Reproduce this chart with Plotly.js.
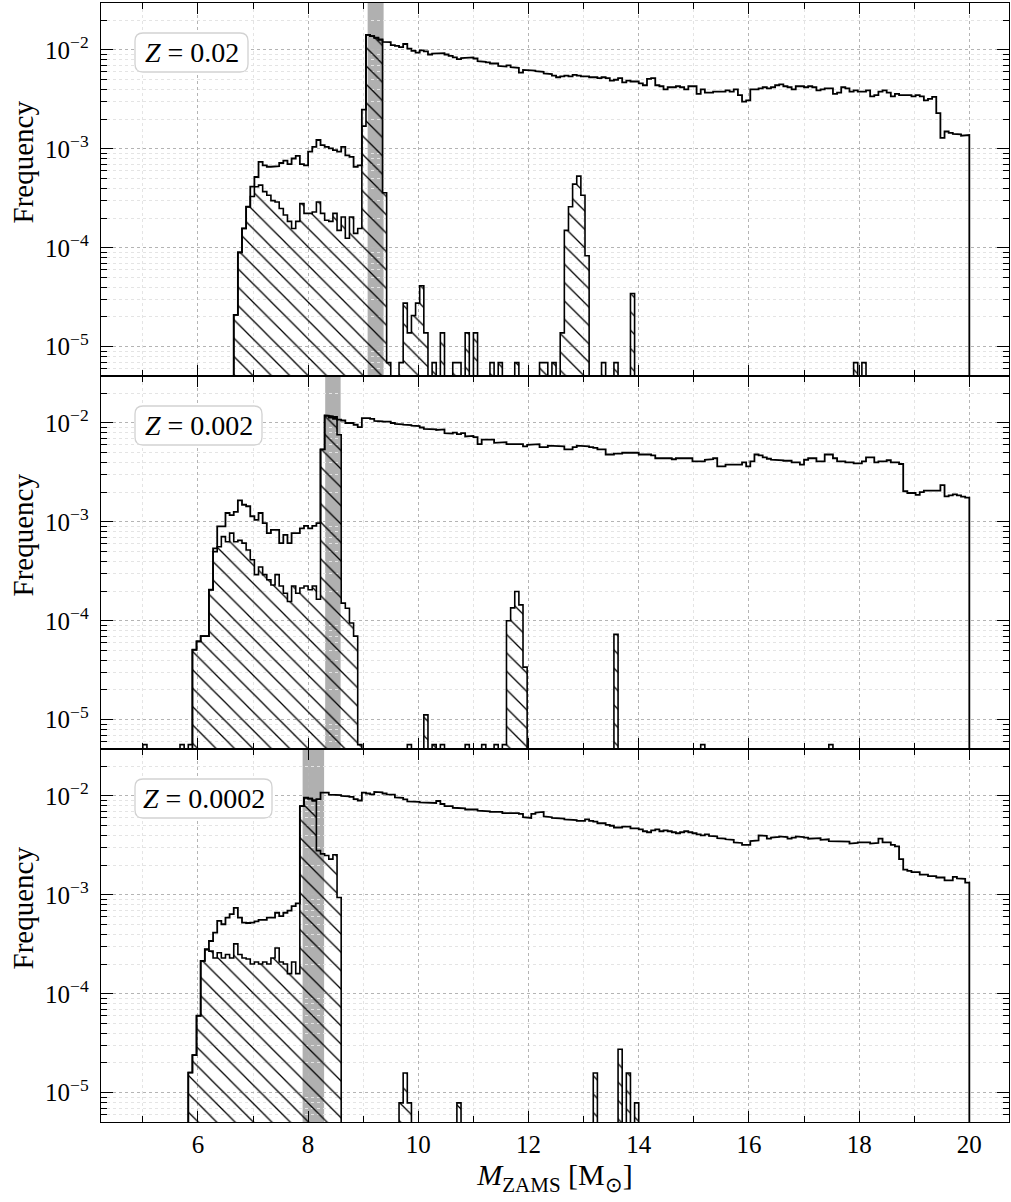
<!DOCTYPE html>
<html><head><meta charset="utf-8">
<script src="https://cdn.plot.ly/plotly-3.0.1.min.js"></script>
<style>html,body{margin:0;padding:0;background:#fff}</style>
</head><body>
<div id="chart" style="width:1011px;height:1202px"></div>
<script>
// ---------- histogram binning ----------
const BIN_START = 5.0;
const BIN_WIDTH = 0.075;

// ---------- panel labels & shaded bands ----------
const metallicity = ['0.02', '0.002', '0.0002'];
const bandLo = [9.08, 8.31, 7.90];
const bandHi = [9.37, 8.59, 8.29];

// ---------- Z = 0.02 ----------
const total1Start = 6.65;
const total1 = [
 2.1e-5,9.0e-5,1.57e-4,2.6e-4,4.15e-4,5.2e-4,7.4e-4,6.8e-4,6.6e-4,6.6e-4,6.7e-4,7.2e-4,7.6e-4,7.0e-4,8.0e-4,8.5e-4,7.0e-4,6.8e-4,
 9.4e-4,1.05e-3,1.23e-3,1.09e-3,1.05e-3,1.01e-3,9.7e-4,9.4e-4,1.05e-3,8.6e-4,8.3e-4,6.6e-4,6.8e-4,2.5e-3,1.42e-2,1.38e-2,1.33e-2,1.28e-2,
 1.21e-2,1.2e-2,1.12e-2,1.1e-2,1.07e-2,1.15e-2,1.03e-2,9.8e-3,9.4e-3,9.9e-3,9.7e-3,9.0e-3,9.2e-3,9.3e-3,9.3e-3,9.0e-3,8.7e-3,8.4e-3,
 8.1e-3,8.3e-3,8.3e-3,8.4e-3,8.2e-3,7.7e-3,7.6e-3,7.5e-3,7.3e-3,7.3e-3,6.9e-3,6.8e-3,7.0e-3,6.7e-3,6.6e-3,5.9e-3,6.3e-3,6.2e-3,
 6.2e-3,6.1e-3,6.0e-3,5.8e-3,5.7e-3,5.5e-3,5.3e-3,5.4e-3,5.5e-3,5.4e-3,5.6e-3,5.5e-3,5.4e-3,5.4e-3,5.3e-3,5.3e-3,5.2e-3,5.3e-3,
 5.2e-3,4.9e-3,5.0e-3,5.2e-3,4.7e-3,4.9e-3,4.8e-3,4.8e-3,4.6e-3,4.4e-3,5.1e-3,5.2e-3,4.4e-3,4.3e-3,4.0e-3,4.2e-3,4.2e-3,4.3e-3,
 4.2e-3,4.0e-3,4.3e-3,4.3e-3,3.6e-3,4.0e-3,3.7e-3,3.7e-3,3.8e-3,3.8e-3,3.8e-3,3.9e-3,3.8e-3,4.0e-3,3.5e-3,3.0e-3,3.1e-3,4.0e-3,
 4.0e-3,4.1e-3,4.2e-3,4.1e-3,4.2e-3,4.4e-3,4.5e-3,4.3e-3,4.2e-3,4.0e-3,4.3e-3,4.3e-3,4.2e-3,4.3e-3,4.2e-3,3.9e-3,4.0e-3,4.1e-3,
 4.1e-3,3.6e-3,3.7e-3,4.2e-3,4.1e-3,3.8e-3,3.9e-3,3.8e-3,3.8e-3,3.9e-3,3.4e-3,3.5e-3,3.8e-3,3.9e-3,3.7e-3,3.4e-3,3.6e-3,3.5e-3,
 3.5e-3,3.5e-3,3.4e-3,3.5e-3,3.4e-3,3.1e-3,3.2e-3,3.35e-3,2.3e-3,1.29e-3,1.5e-3,1.45e-3,1.42e-3,1.4e-3,1.36e-3,1.38e-3
];
const hatch1Start = 6.65;
const hatch1 = [
 2.1e-5,9.0e-5,1.57e-4,2.6e-4,3.3e-4,4.15e-4,4.3e-4,3.7e-4,3.4e-4,3.0e-4,2.9e-4,2.5e-4,2.15e-4,1.85e-4,1.57e-4,1.85e-4,2.8e-4,2.23e-4,
 2.23e-4,2.3e-4,2.9e-4,2.23e-4,1.9e-4,1.85e-4,2.23e-4,1.5e-4,2.05e-4,1.25e-4,2.05e-4,1.4e-4,1.57e-4,1.7e-3,1.42e-2,1.38e-2,1.33e-2,1.26e-2,
 3.6e-4,6.9e-6
];
const spike1Mass = [9.65,9.725,9.8,9.875,9.95,10.025,10.1,10.25,10.4,10.625,10.7,10.85,11.0,11.3,11.45,11.75,12.2,12.275,12.425,12.575,
 12.65,12.725,12.8,12.875,12.95,13.025,13.325,13.55,13.85,17.9,18.05];
const spike1Freq = [6.9e-6,2.76e-5,1.38e-5,2.07e-5,2.76e-5,4.14e-5,1.38e-5,6.9e-6,1.38e-5,6.9e-6,6.9e-6,1.38e-5,1.38e-5,6.9e-6,6.9e-6,6.9e-6,
 6.9e-6,6.9e-6,6.9e-6,1.38e-5,1.5e-4,2.6e-4,4.4e-4,5.3e-4,3.4e-4,8.3e-5,6.9e-6,6.9e-6,3.45e-5,6.9e-6,6.9e-6];

// ---------- Z = 0.002 ----------
const total2Start = 5.9;
const total2 = [
 5.1e-5,6.2e-5,7.0e-5,7.0e-5,2.06e-4,5.4e-4,9.0e-4,9.0e-4,1.23e-3,1.17e-3,1.26e-3,1.65e-3,1.49e-3,1.44e-3,1.14e-3,1.05e-3,
 1.23e-3,9.7e-4,7.7e-4,8.3e-4,8.3e-4,6.1e-4,7.4e-4,6.1e-4,7.7e-4,7.7e-4,8.6e-4,9.1e-4,8.6e-4,9.1e-4,9.7e-4,5.4e-3,
 1.19e-2,1.17e-2,1.15e-2,1.08e-2,1.06e-2,1.0e-2,1.0e-2,9.6e-3,9.1e-3,1.12e-2,1.12e-2,1.1e-2,1.05e-2,1.04e-2,1.03e-2,1.03e-2,
 1.0e-2,9.8e-3,9.7e-3,9.6e-3,9.5e-3,9.4e-3,9.3e-3,9.0e-3,8.7e-3,8.6e-3,8.6e-3,8.5e-3,8.6e-3,7.9e-3,7.8e-3,8.0e-3,
 7.7e-3,7.9e-3,7.3e-3,7.4e-3,7.2e-3,6.1e-3,6.8e-3,6.7e-3,6.8e-3,6.3e-3,6.3e-3,6.4e-3,6.1e-3,6.1e-3,6.2e-3,6.1e-3,
 5.8e-3,6.0e-3,6.0e-3,6.1e-3,5.7e-3,5.7e-3,5.9e-3,5.9e-3,5.8e-3,5.8e-3,5.4e-3,5.4e-3,5.7e-3,5.9e-3,5.9e-3,5.8e-3,
 5.7e-3,5.6e-3,5.4e-3,5.4e-3,4.8e-3,4.8e-3,4.9e-3,4.9e-3,5.0e-3,5.0e-3,5.0e-3,5.0e-3,4.8e-3,4.8e-3,4.8e-3,4.7e-3,
 4.4e-3,4.4e-3,4.4e-3,4.4e-3,4.3e-3,4.4e-3,4.4e-3,4.4e-3,4.4e-3,4.1e-3,4.1e-3,4.1e-3,4.25e-3,4.3e-3,4.4e-3,3.65e-3,
 3.65e-3,3.8e-3,3.8e-3,3.8e-3,3.8e-3,4.0e-3,3.65e-3,4.1e-3,4.8e-3,4.7e-3,4.5e-3,4.35e-3,4.25e-3,4.25e-3,4.2e-3,4.15e-3,
 4.15e-3,4.0e-3,4.0e-3,3.8e-3,4.25e-3,4.4e-3,4.4e-3,4.1e-3,4.1e-3,4.8e-3,4.8e-3,4.4e-3,4.1e-3,4.1e-3,4.0e-3,4.0e-3,
 3.9e-3,3.9e-3,4.1e-3,4.5e-3,4.5e-3,4.0e-3,4.1e-3,4.1e-3,4.2e-3,4.0e-3,4.0e-3,3.85e-3,2.04e-3,1.96e-3,1.96e-3,1.88e-3,
 2.0e-3,2.07e-3,2.07e-3,2.07e-3,2.07e-3,2.35e-3,1.81e-3,1.85e-3,1.9e-3,1.85e-3,1.8e-3,1.76e-3
];
const hatch2Start = 5.9;
const hatch2 = [
 5.1e-5,6.2e-5,7.0e-5,7.0e-5,2.06e-4,5.0e-4,5.6e-4,7.1e-4,6.3e-4,7.7e-4,6.3e-4,6.5e-4,6.1e-4,5.2e-4,4.15e-4,2.93e-4,
 3.5e-4,2.93e-4,2.6e-4,2.3e-4,2.93e-4,2.25e-4,1.9e-4,1.57e-4,2.25e-4,1.9e-4,2.15e-4,2.25e-4,2.06e-4,2.25e-4,1.65e-4,5.4e-3,
 1.19e-2,1.13e-2,1.1e-2,7.6e-3,1.51e-4,1.34e-4,9.5e-5,7.0e-5,5.6e-6
];
const spike2Mass = [5.0,5.675,5.825,9.8,10.1,10.25,10.4,10.85,11.15,11.375,11.525,11.6,11.675,11.75,11.825,11.9,13.55,15.125,17.45];
const spike2Freq = [5.6e-6,5.6e-6,5.6e-6,5.6e-6,1.12e-5,5.6e-6,5.6e-6,5.6e-6,5.6e-6,5.6e-6,5.6e-6,1.0e-4,1.35e-4,1.98e-4,1.45e-4,3.4e-5,7.3e-5,5.6e-6,5.6e-6];

// ---------- Z = 0.0002 ----------
const total3Start = 5.825;
const total3 = [
 1.6e-5,2.4e-5,6.0e-5,2.15e-4,2.82e-4,3.42e-4,4.16e-4,5.45e-4,5.05e-4,5.9e-4,6.4e-4,7.4e-4,5.9e-4,5.25e-4,5.2e-4,5.25e-4,
 5.4e-4,5.6e-4,5.6e-4,5.9e-4,5.9e-4,6.6e-4,6.1e-4,6.6e-4,6.95e-4,7.7e-4,8.2e-4,
 7.9e-3,9.6e-3,9.4e-3,9.1e-3,9.3e-3,1.08e-2,1.08e-2,1.03e-2,1.02e-2,1.02e-2,1.0e-2,9.9e-3,9.8e-3,9.3e-3,9.0e-3,1.08e-2,
 1.06e-2,1.04e-2,1.1e-2,1.09e-2,1.06e-2,1.04e-2,1.03e-2,9.7e-3,9.6e-3,9.25e-3,8.8e-3,8.8e-3,8.7e-3,8.6e-3,8.5e-3,8.5e-3,
 8.5e-3,8.9e-3,8.3e-3,7.9e-3,7.9e-3,7.6e-3,7.6e-3,7.5e-3,7.3e-3,7.3e-3,7.3e-3,7.1e-3,7.0e-3,7.0e-3,6.9e-3,6.8e-3,6.9e-3,
 6.7e-3,6.8e-3,6.7e-3,6.7e-3,6.6e-3,6.1e-3,6.0e-3,6.6e-3,6.8e-3,6.9e-3,6.2e-3,6.1e-3,6.0e-3,6.0e-3,5.9e-3,5.8e-3,5.8e-3,
 5.7e-3,5.6e-3,5.6e-3,5.8e-3,5.6e-3,5.5e-3,5.3e-3,5.3e-3,5.1e-3,5.0e-3,4.8e-3,4.8e-3,4.9e-3,4.9e-3,4.7e-3,4.7e-3,4.6e-3,
 4.4e-3,4.3e-3,4.5e-3,4.6e-3,4.4e-3,4.5e-3,4.4e-3,4.3e-3,4.2e-3,4.3e-3,4.4e-3,4.3e-3,4.2e-3,4.1e-3,4.0e-3,4.1e-3,3.95e-3,
 3.9e-3,3.75e-3,3.7e-3,3.65e-3,3.6e-3,3.4e-3,3.35e-3,3.2e-3,3.2e-3,3.5e-3,3.55e-3,4.0e-3,3.95e-3,3.7e-3,3.8e-3,3.85e-3,
 3.9e-3,3.85e-3,3.7e-3,3.8e-3,3.9e-3,3.85e-3,3.8e-3,3.7e-3,3.7e-3,3.75e-3,3.6e-3,3.65e-3,3.5e-3,3.45e-3,3.5e-3,3.5e-3,
 3.45e-3,3.3e-3,3.35e-3,3.4e-3,3.35e-3,3.4e-3,3.3e-3,3.35e-3,3.7e-3,3.4e-3,3.4e-3,3.2e-3,3.1e-3,2.3e-3,1.8e-3,1.75e-3,
 1.7e-3,1.7e-3,1.6e-3,1.6e-3,1.55e-3,1.55e-3,1.5e-3,1.5e-3,1.4e-3,1.4e-3,1.52e-3,1.47e-3,1.45e-3,1.33e-3
];
const hatch3Start = 5.825;
const hatch3 = [
 1.6e-5,2.4e-5,6.0e-5,2.15e-4,2.8e-4,2.7e-4,2.3e-4,2.6e-4,2.3e-4,2.5e-4,2.3e-4,3.2e-4,2.5e-4,2.3e-4,2.25e-4,2.0e-4,
 2.1e-4,2.0e-4,2.1e-4,2.0e-4,2.3e-4,2.9e-4,2.1e-4,2.0e-4,1.6e-4,2.1e-4,1.6e-4,7.9e-3,9.6e-3,9.4e-3,8.9e-3,2.8e-3,
 2.6e-3,2.5e-3,2.3e-3,2.55e-3,9.4e-4
];
const spike3Mass = [9.65,9.725,9.8,10.7,13.175,13.625,13.775,13.925];
const spike3Freq = [7.9e-6,1.58e-5,7.9e-6,7.9e-6,1.58e-5,2.75e-5,1.58e-5,7.9e-6];

// ---------- axis tick text ----------
const yTickVals = [1e-5, 1e-4, 1e-3, 1e-2];
const yTickText = ['10<sup>\u22125</sup>', '10<sup>\u22124</sup>', '10<sup>\u22123</sup>', '10<sup>\u22122</sup>'];

// ================= build =================
const FONT = 'Liberation Serif, Times New Roman, serif';
const FLOOR = 1e-9;
const W = 1011, H = 1202, ML = 101, MR = 2, MT = 3, MB = 80;
const PW = W - ML - MR, PH = H - MT - MB;
const kOf = m => Math.round((m - BIN_START) / BIN_WIDTH);
const edge = k => BIN_START + k * BIN_WIDTH;

function binsFrom(start, vals) { const k0 = kOf(start); return vals.map((v, i) => [k0 + i, v]); }
function spikes(ms, fs) { return ms.map((m, i) => [kOf(m), fs[i]]); }
function outline(bins) {
  bins = bins.filter(b => b[1] > 0).sort((a, b) => a[0] - b[0]);
  const xs = [], ys = []; let prev = null;
  bins.forEach(([k, v]) => {
    if (prev === null || k !== prev + 1) {
      if (prev !== null) { xs.push(edge(prev + 1)); ys.push(FLOOR); xs.push(null); ys.push(null); }
      xs.push(edge(k)); ys.push(FLOOR);
    }
    xs.push(edge(k)); ys.push(v);
    xs.push(edge(k + 1)); ys.push(v);
    prev = k;
  });
  xs.push(edge(prev + 1)); ys.push(FLOOR);
  return { xs, ys };
}
// rounded box path in paper coordinates from pixel geometry
function roundBox(px0, py0, pw, ph, r) {
  const X = p => (p - ML) / PW, Y = p => 1 - (p - MT) / PH;
  const x0 = X(px0), x1 = X(px0 + pw), y0 = Y(py0), y1 = Y(py0 + ph);
  const rx = r / PW, ry = r / PH;
  return `M${x0 + rx},${y0} L${x1 - rx},${y0} Q${x1},${y0} ${x1},${y0 - ry} L${x1},${y1 + ry} Q${x1},${y1} ${x1 - rx},${y1} ` +
         `L${x0 + rx},${y1} Q${x0},${y1} ${x0},${y1 + ry} L${x0},${y0 - ry} Q${x0},${y0} ${x0 + rx},${y0} Z`;
}

const panels = [
  { total: binsFrom(total1Start, total1), hatch: binsFrom(hatch1Start, hatch1).concat(spikes(spike1Mass, spike1Freq)) },
  { total: binsFrom(total2Start, total2), hatch: binsFrom(hatch2Start, hatch2).concat(spikes(spike2Mass, spike2Freq)) },
  { total: binsFrom(total3Start, total3), hatch: binsFrom(hatch3Start, hatch3).concat(spikes(spike3Mass, spike3Freq)) }
];

const traces = [];
const shapes = [];
const annotations = [];
const layout = {
  width: W, height: H,
  margin: { l: ML, r: MR, t: MT, b: MB },
  paper_bgcolor: '#ffffff', plot_bgcolor: '#ffffff',
  showlegend: false, barmode: 'overlay', bargap: 0,
  font: { family: FONT, color: '#000000', size: 22 },
  shapes: shapes, annotations: annotations
};

const minorY = [];
for (let e = -6; e <= -1; e++) for (let d = 2; d <= 9; d++) minorY.push(d * Math.pow(10, e));
const boxWidths = [113, 127, 137];

panels.forEach((p, i) => {
  const s = i === 0 ? '' : String(i + 1);
  const xa = 'x' + s, ya = 'y' + s;
  const hb = p.hatch.slice().sort((a, b) => a[0] - b[0]);
  traces.push({
    type: 'bar', xaxis: xa, yaxis: ya,
    x: hb.map(b => edge(b[0]) + BIN_WIDTH / 2), y: hb.map(b => b[1]),
    width: BIN_WIDTH,
    marker: { color: '#000000', line: { width: 0 },
      pattern: { shape: '\\', size: 13, solidity: 0.1, fgcolor: '#000000', fillmode: 'replace' } },
    hoverinfo: 'skip'
  });
  const ho = outline(p.hatch);
  traces.push({ type: 'scatter', mode: 'lines', xaxis: xa, yaxis: ya, x: ho.xs, y: ho.ys,
    line: { color: '#000000', width: 1.6 }, connectgaps: false, hoverinfo: 'skip' });
  const to = outline(p.total);
  traces.push({ type: 'scatter', mode: 'lines', xaxis: xa, yaxis: ya, x: to.xs, y: to.ys,
    line: { color: '#000000', width: 1.8 }, connectgaps: false, hoverinfo: 'skip' });

  const dom = [[2 / 3, 1], [1 / 3, 2 / 3], [0, 1 / 3]][i];
  shapes.push({ type: 'rect', xref: xa, yref: 'paper',
    x0: bandLo[i], x1: bandHi[i], y0: dom[0], y1: dom[1],
    fillcolor: '#b0b0b0', line: { width: 0 }, layer: 'below' });

  const xax = {
    anchor: ya,
    range: [4.241, 20.72], tick0: 0, dtick: 2,
    ticks: 'inside', ticklen: 11, tickwidth: 1, tickcolor: '#000000',
    showticklabels: i === 2, tickfont: { family: FONT, size: 25 },
    showline: true, linecolor: '#000000', linewidth: 1.3, mirror: 'ticks',
    showgrid: true, gridcolor: '#b4b4b4', griddash: 'dot', gridwidth: 1, zeroline: false,
    minor: { dtick: 1, ticks: 'inside', ticklen: 6, tickcolor: '#000000', showgrid: true, gridcolor: '#e4e4e4', griddash: 'dot' }
  };
  if (i > 0) xax.matches = 'x';
  if (i === 2) xax.title = { text: '<i>M</i><sub>ZAMS</sub> [M<sub>\u2299</sub>]', font: { family: FONT, size: 30 }, standoff: 4 };
  layout['xaxis' + s] = xax;
  layout['yaxis' + s] = {
    anchor: xa, domain: dom, type: 'log', range: [-5.296, -1.525],
    tickvals: yTickVals, ticktext: yTickText, tickfont: { family: FONT, size: 25 },
    ticks: 'inside', ticklen: 12, tickwidth: 1, tickcolor: '#000000', ticklabelstandoff: 6,
    showline: true, linecolor: '#000000', linewidth: 1.3, mirror: 'ticks',
    showgrid: true, gridcolor: '#b4b4b4', griddash: 'dot', gridwidth: 1, zeroline: false,
    minor: { tickvals: minorY, ticks: 'inside', ticklen: 6, tickcolor: '#000000', showgrid: true, gridcolor: '#e4e4e4', griddash: 'dot' }
  };
  // y label, placed like the reference (slightly above the panel centre)
  const topPx = MT + (1 - dom[1]) * PH;
  annotations.push({
    xref: 'paper', yref: 'paper', x: (22 - ML) / PW, y: 1 - (topPx + PH / 6 - 27 - MT) / PH,
    xanchor: 'center', yanchor: 'middle', textangle: -90, showarrow: false,
    text: 'Frequency', font: { family: FONT, size: 29, color: '#000000' }
  });
  // rounded label box
  shapes.push({ type: 'path', xref: 'paper', yref: 'paper',
    path: roundBox(135, topPx + 30, boxWidths[i], 39, 8),
    fillcolor: '#ffffff', line: { color: '#d2d2d2', width: 1.3 }, layer: 'above' });
  annotations.push({
    xref: 'paper', yref: 'paper', x: (135 + boxWidths[i] / 2 - ML) / PW, y: 1 - (topPx + 30 + 19.5 - MT) / PH,
    xanchor: 'center', yanchor: 'middle',
    text: '<i>Z</i> = ' + metallicity[i], showarrow: false,
    font: { family: FONT, size: 28, color: '#000000' }
  });
});

Plotly.newPlot('chart', traces, layout, { staticPlot: true, displayModeBar: false });
</script>
</body></html>
